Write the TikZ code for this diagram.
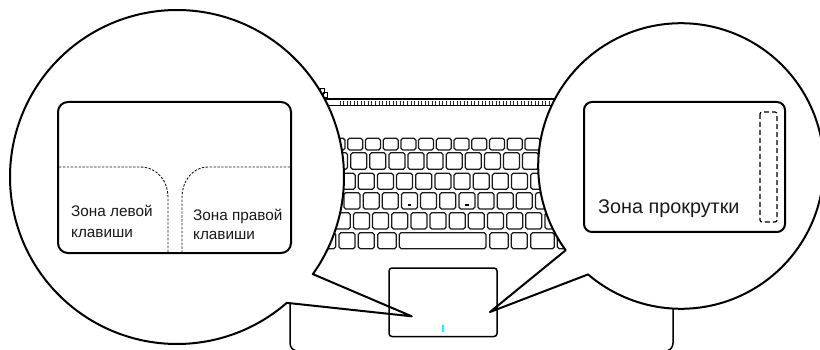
\documentclass[tikz,border=0pt]{standalone}
\usepackage{fontspec}
\setmainfont{Liberation Sans}
\definecolor{padmark}{RGB}{0,255,255}
\tikzset{
  keycap/.style={draw=black!90,line width=1.25pt,rounded corners=1.8pt,fill=white},
  callout/.style={draw=black,line width=2pt,fill=white,line join=round},
  padframe/.style={draw=black,line width=2pt,rounded corners=10pt,fill=white},
  zoneline/.style={draw=black!90,line width=0.9pt,dash pattern=on 2.4pt off 1.5pt},
  scrollzone/.style={draw=black,line width=1.2pt,dash pattern=on 5pt off 3pt,rounded corners=2pt},
  bodyline/.style={draw=black,line width=1.5pt,rounded corners=8pt},
  zonelabel/.style={anchor=base west,inner sep=0pt,font=\fontsize{15.3}{18}\selectfont,text=black!90},
}
\begin{document}
\begin{tikzpicture}[x=1pt,y=-1pt]
\useasboundingbox (0,0) rectangle (820,350);
\begin{scope}
\clip (0,0) rectangle (820,350);
% laptop body
\draw[bodyline] (290,290) -- (290,351.2) -- (673,351.2) -- (673,290);
% hinge
\draw[line width=1.5pt] (322,99) -- (560,99);
\draw[line width=1.5pt] (322,105.7) -- (560,105.7);
\foreach \i in {0,...,60} \draw[line width=1pt,black!85] ({340+\i*3.55},101.5) -- ({340+\i*3.55},105);
\draw[line width=0.8pt] (320,88) rectangle (324,93);
\draw[line width=0.8pt] (323,92) rectangle (327,97);
% keys row 1
\foreach \i in {-1,...,10} \draw[keycap] ({347.7+\i*17.73},138.3) rectangle +(15,11.7);
% keys row 2
\foreach \i in {-1,...,9} \draw[keycap] ({350.7+\i*19.1},152.7) rectangle +(16,16.6);
% keys row 3
\foreach \i in {-1,...,9} \draw[keycap] ({358.3+\i*19.15},173.3) rectangle +(16,16);
% keys row 4
\foreach \i in {-1,...,10} \draw[keycap] ({344+\i*19.15},192.7) rectangle +(16,16.3);
% keys row 5
\foreach \i in {-1,...,11} \draw[keycap] ({334.3+\i*19.15},212.7) rectangle +(16,16.3);
% keys row 6
\foreach \a/\b in {320/335.7,339/355,358.3/374.3,377.7/396.3,399.3/486,489.7/508.3,511.3/527.3,530.7/554.3,557.3/575}
  \draw[keycap] (\a,232.7) rectangle (\b,248.7);
% home key bumps
\draw[line width=1.2pt] (407.5,205) -- (411,205);
\draw[line width=1.2pt] (465,205) -- (468.5,205);
% callouts
\draw[callout] plot[domain=48.9:395.56,samples=200,smooth] ({177+167*cos(\x)},{177+167*sin(\x)}) -- (411.7,316.3) -- cycle;
\draw[callout] plot[domain=143.85:490.6,samples=200,smooth] ({681+142.8*cos(\x)},{166+142.8*sin(\x)}) -- (490,312) -- cycle;
\end{scope}
% touchpad
\draw[draw=black,line width=1.5pt,rounded corners=3pt] (389,268) rectangle (497,336.5);
\fill[padmark] (442.2,325) rectangle (444.2,332);
% left pad
\draw[padframe] (58,102) rectangle (291,253);
\draw[zoneline] (59,167) -- (140,167) .. controls (158,167) and (168,182) .. (168,197) -- (168,252);
\draw[zoneline] (290,167) -- (208,167) .. controls (192,167) and (182,182) .. (182,197) -- (182,252);
\node[zonelabel] (leftA) at (71,216) {Зона левой};
\node[zonelabel] (leftB) at (71,237) {клавиши};
\node[zonelabel] (rightA) at (193,221) {Зона правой};
\node[zonelabel] (rightB) at (193,240) {клавиши};
% right pad
\draw[padframe,rounded corners=8pt] (584,102) rectangle (785,232);
\draw[scrollzone] (760,112) rectangle (777,222);
\node[anchor=base west,inner sep=0pt,font=\fontsize{19.8}{23}\selectfont,text=black!90] (scroll) at (598,214) {Зона прокрутки};
\end{tikzpicture}
\end{document}
